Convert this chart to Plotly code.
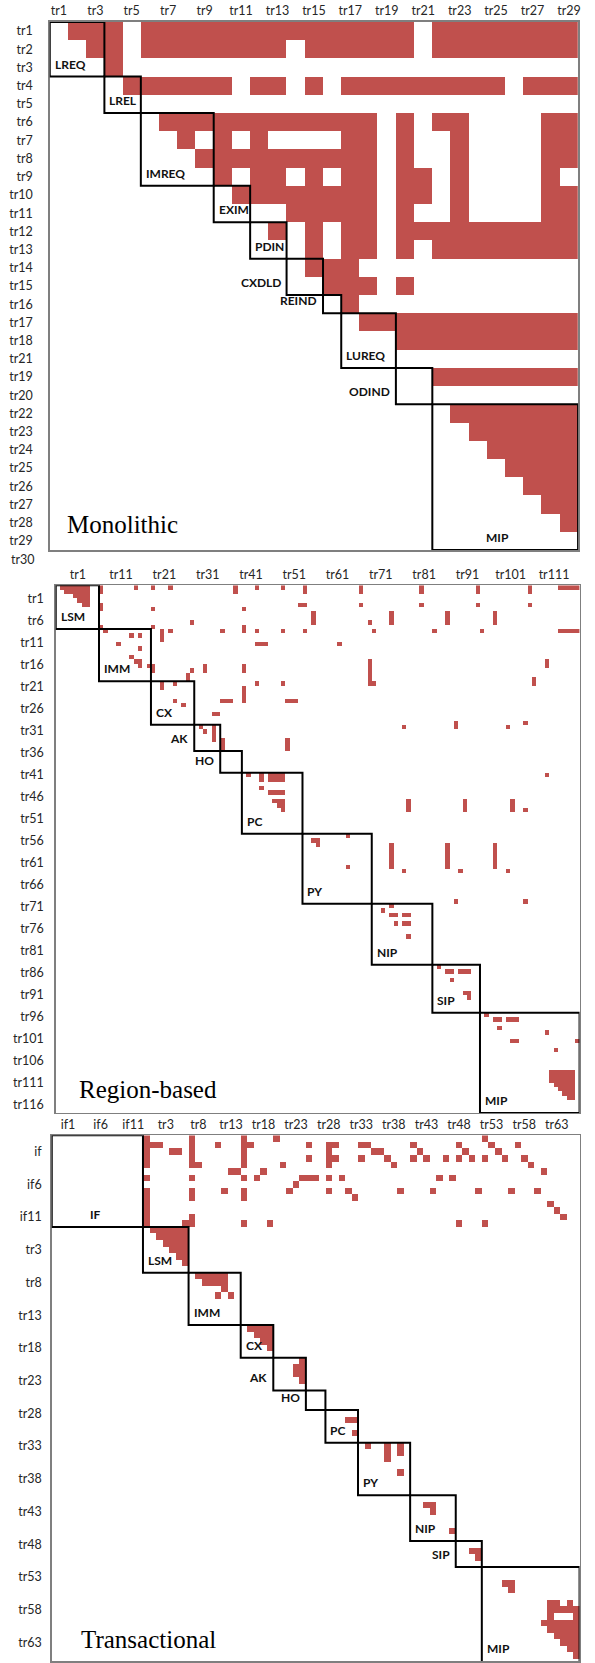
import numpy as np
import plotly.graph_objects as go

RED = "#C0504D"
W, H = 595, 1663

# ---------------- Panel 1: Monolithic ----------------
mono_n = 29
mono_x_labels = ["tr%d" % i for i in range(1, 30, 2)]
mono_y_labels = ["tr%d" % i for i in range(1, 19)] + ["tr21", "tr19", "tr20"] + ["tr%d" % i for i in range(22, 31)]
mono_blocks = ["LREQ", "LREL", "IMREQ", "EXIM", "PDIN", "CXDLD", "REIND", "LUREQ", "ODIND", "MIP"]
mono_block_sizes = [3, 2, 4, 2, 2, 2, 1, 3, 2, 8]
mono_label_modes = ["in", "in", "in", "in", "in", "out", "out", "in", "out", "mid"]
# dependency runs: [row_from, row_to, col_from, col_to]
mono_runs = [
    [0, 0, 1, 3], [0, 0, 5, 19], [0, 0, 21, 28],
    [1, 1, 2, 3], [1, 1, 5, 12], [1, 1, 14, 19], [1, 1, 21, 28],
    [2, 2, 3, 3],
    [3, 3, 4, 9], [3, 3, 11, 12], [3, 3, 14, 14], [3, 3, 16, 24], [3, 3, 26, 28],
    [5, 5, 6, 17], [5, 5, 19, 19], [5, 5, 21, 22], [5, 5, 27, 28],
    [6, 6, 7, 7], [6, 6, 9, 9], [6, 6, 11, 11], [6, 6, 16, 17], [6, 6, 19, 19], [6, 6, 22, 22], [6, 6, 27, 28],
    [7, 7, 8, 17], [7, 7, 19, 19], [7, 7, 22, 22], [7, 7, 27, 28],
    [8, 8, 9, 9], [8, 8, 11, 12], [8, 8, 14, 14], [8, 8, 16, 17], [8, 8, 19, 20], [8, 8, 22, 22], [8, 8, 27, 27],
    [9, 9, 10, 17], [9, 9, 19, 20], [9, 9, 22, 22], [9, 9, 27, 28],
    [10, 10, 13, 17], [10, 10, 19, 19], [10, 10, 22, 22], [10, 10, 27, 28],
    [11, 11, 12, 12], [11, 11, 14, 14], [11, 11, 16, 17], [11, 11, 19, 28],
    [12, 12, 14, 14], [12, 12, 16, 17], [12, 12, 19, 19], [12, 12, 21, 28],
    [13, 13, 14, 16],
    [14, 14, 15, 17], [14, 14, 19, 19],
    [15, 15, 16, 16],
    [16, 16, 17, 28],
    [17, 17, 19, 28],
    [19, 19, 21, 28],
    [21, 21, 22, 28], [22, 22, 23, 28], [23, 23, 24, 28], [24, 24, 25, 28],
    [25, 25, 26, 28], [26, 26, 27, 28], [27, 27, 28, 28],
]

# ---------------- Panel 2: Region-based ----------------
reg_n = 121
reg_x_labels = ["tr%d" % i for i in range(1, 112, 10)]
reg_y_labels = ["tr%d" % i for i in range(1, 117, 5)]
reg_blocks = ["LSM", "IMM", "CX", "AK", "HO", "PC", "PY", "NIP", "SIP", "MIP"]
reg_block_sizes = [10, 12, 10, 6, 5, 14, 16, 14, 11, 23]
reg_label_modes = ["in", "in", "in", "out", "out", "in", "in", "in", "in", "in"]
reg_runs = [
    [0, 0, 1, 7], [1, 1, 2, 7], [2, 2, 4, 7], [3, 3, 5, 7], [4, 4, 6, 7],
    [0, 1, 10, 10], [4, 5, 10, 10], [9, 9, 10, 10],
    [0, 0, 18, 18], [0, 0, 22, 22], [5, 5, 22, 22], [9, 9, 22, 22], [0, 0, 26, 26],
    [0, 1, 41, 41],
    [5, 5, 43, 43], [9, 10, 43, 43], [18, 19, 43, 43], [23, 26, 43, 43],
    [0, 0, 46, 46], [10, 10, 46, 46], [22, 22, 46, 46],
    [0, 0, 52, 52], [10, 10, 52, 52], [22, 22, 52, 52],
    [0, 1, 57, 57], [10, 10, 57, 57], [4, 4, 56, 57], [6, 8, 59, 59],
    [0, 1, 70, 70], [4, 4, 70, 70], [0, 1, 84, 84], [4, 4, 84, 84],
    [0, 1, 97, 97], [4, 4, 97, 97], [0, 1, 109, 109], [4, 4, 109, 109],
    [0, 0, 116, 120], [10, 10, 116, 120],
    [8, 8, 31, 31], [8, 8, 72, 72], [10, 10, 73, 73],
    [6, 8, 77, 77], [6, 8, 90, 90], [6, 8, 101, 101],
    [10, 10, 11, 11], [11, 11, 17, 17], [11, 11, 19, 19], [10, 12, 24, 24],
    [10, 10, 26, 26], [10, 10, 38, 38], [10, 10, 87, 87], [10, 10, 98, 98],
    [13, 13, 14, 14], [14, 14, 19, 19], [13, 13, 46, 48], [13, 13, 65, 65],
    [16, 16, 17, 17], [17, 17, 18, 19], [18, 18, 19, 19],
    [18, 18, 21, 22], [19, 19, 22, 22],
    [19, 19, 31, 31], [18, 19, 34, 34],
    [17, 22, 72, 72], [22, 22, 73, 73], [17, 18, 113, 113],
    [20, 21, 30, 30], [22, 23, 24, 24], [22, 22, 27, 27], [21, 22, 110, 110],
    [26, 26, 27, 27], [27, 27, 29, 29], [26, 26, 38, 40], [26, 26, 53, 55],
    [29, 29, 36, 37],
    [32, 32, 80, 80], [31, 32, 92, 92], [32, 32, 104, 104], [31, 31, 108, 108],
    [32, 32, 33, 33], [33, 33, 34, 34], [32, 35, 36, 36], [35, 37, 38, 38], [35, 37, 53, 53],
    [43, 43, 44, 44], [43, 44, 47, 47], [43, 44, 49, 52], [46, 46, 47, 47],
    [47, 47, 49, 52], [49, 49, 50, 52], [50, 50, 51, 52], [51, 51, 52, 52],
    [43, 43, 113, 113],
    [49, 51, 81, 81], [49, 51, 94, 94], [49, 51, 105, 105], [51, 51, 108, 108],
    [58, 58, 59, 60], [59, 59, 60, 60], [57, 57, 67, 67], [64, 64, 67, 67],
    [59, 64, 77, 77], [65, 65, 80, 80], [59, 64, 90, 90], [65, 65, 93, 93],
    [59, 64, 101, 101], [65, 65, 104, 104], [72, 72, 92, 92], [72, 72, 108, 108],
    [73, 73, 77, 77], [74, 74, 75, 75], [75, 75, 77, 78], [75, 75, 80, 81],
    [77, 77, 78, 78], [77, 77, 80, 81], [80, 80, 81, 81],
    [87, 87, 88, 88], [88, 88, 90, 91], [88, 88, 93, 95], [90, 90, 91, 91],
    [93, 93, 94, 95], [94, 94, 95, 95],
    [98, 98, 99, 99], [99, 99, 101, 102], [99, 99, 104, 106], [101, 101, 102, 102],
    [102, 102, 113, 113], [104, 104, 105, 106], [104, 104, 120, 120], [106, 106, 115, 115],
    [111, 113, 114, 119], [114, 114, 115, 119], [115, 115, 116, 119],
    [116, 116, 117, 119], [117, 117, 118, 119],
]

# ---------------- Panel 3: Transactional ----------------
tra_n = 81
tra_x_labels = ["if1", "if6", "if11"] + ["tr%d" % i for i in range(3, 64, 5)]
tra_y_labels = ["if", "if6", "if11"] + ["tr%d" % i for i in range(3, 64, 5)]
tra_blocks = ["IF", "LSM", "IMM", "CX", "AK", "HO", "PC", "PY", "NIP", "SIP", "MIP"]
tra_block_sizes = [14, 7, 8, 5, 5, 3, 5, 8, 7, 4, 15]
tra_label_modes = ["mid", "in", "in", "in", "out", "out", "in", "in", "in", "out", "in"]
tra_runs = [
    [0, 4, 14, 14], [6, 6, 14, 14], [8, 13, 14, 14],
    [1, 1, 15, 16], [2, 2, 18, 19],
    [0, 4, 21, 21], [4, 4, 22, 22], [6, 6, 21, 21], [8, 9, 21, 21], [12, 13, 21, 21], [13, 13, 20, 20],
    [1, 1, 25, 25],
    [0, 4, 29, 29], [1, 1, 30, 30], [6, 6, 29, 29], [8, 9, 29, 29], [13, 13, 29, 29],
    [5, 5, 27, 28], [6, 6, 31, 31], [5, 5, 32, 32], [0, 0, 34, 34], [4, 4, 35, 35], [13, 13, 33, 33],
    [1, 1, 39, 39], [3, 3, 39, 39],
    [1, 4, 42, 42], [1, 1, 43, 43], [3, 3, 43, 43],
    [1, 1, 47, 48], [2, 2, 49, 50], [3, 3, 51, 51], [4, 4, 52, 52], [3, 3, 47, 47],
    [1, 1, 55, 55], [2, 2, 56, 56], [3, 3, 55, 55], [3, 3, 57, 57], [3, 3, 60, 60],
    [1, 1, 62, 62], [2, 2, 63, 63], [3, 3, 62, 62], [3, 3, 64, 64],
    [0, 0, 66, 66], [1, 1, 67, 67], [2, 2, 68, 68], [3, 3, 69, 69], [3, 3, 66, 66],
    [1, 1, 71, 71], [3, 3, 72, 72], [4, 4, 73, 73], [5, 5, 75, 75],
    [6, 6, 38, 40], [7, 7, 37, 37], [8, 8, 36, 36], [6, 6, 42, 42], [6, 6, 44, 44],
    [8, 8, 42, 42], [8, 8, 45, 45], [9, 9, 46, 46],
    [8, 8, 53, 53], [8, 8, 58, 58], [8, 8, 65, 65], [8, 8, 70, 70], [8, 8, 74, 74],
    [6, 6, 59, 59], [6, 6, 61, 61], [8, 8, 26, 26],
    [10, 10, 76, 76], [11, 11, 77, 77], [12, 12, 78, 78], [13, 13, 62, 62], [13, 13, 66, 66],
    [14, 14, 15, 20], [15, 15, 16, 20], [16, 16, 17, 20], [17, 17, 18, 20], [18, 18, 19, 20], [19, 19, 20, 20],
    [21, 21, 22, 26], [22, 22, 23, 26], [23, 23, 26, 26], [24, 24, 25, 25], [24, 24, 27, 27],
    [29, 29, 30, 33], [30, 30, 31, 33], [31, 31, 32, 33], [32, 32, 33, 33],
    [34, 34, 38, 38], [35, 36, 37, 38], [37, 37, 38, 38],
    [43, 43, 45, 46], [45, 45, 46, 46],
    [47, 47, 48, 48], [47, 49, 51, 51], [47, 48, 53, 53], [51, 51, 53, 53],
    [56, 56, 57, 58], [57, 57, 58, 58], [60, 60, 61, 61],
    [63, 63, 64, 65], [64, 64, 65, 65],
    [68, 68, 69, 70], [69, 69, 70, 70],
    [71, 71, 76, 77], [71, 71, 79, 79], [72, 72, 76, 80], [73, 73, 76, 76], [73, 73, 80, 80],
    [74, 74, 75, 80], [75, 75, 76, 80], [76, 76, 77, 80], [77, 77, 78, 80],
    [78, 78, 79, 80], [79, 79, 80, 80],
]


def build(n, runs):
    z = np.zeros((n, n))
    for r0, r1, c0, c1 in runs:
        z[r0:r1 + 1, c0:c1 + 1] = 1
    return z


# layout geometry (pixels in the page)
panels = [
    dict(name="Monolithic", n=mono_n, runs=mono_runs, blocks=mono_blocks, sizes=mono_block_sizes,
         modes=mono_label_modes, xl=mono_x_labels, xv=[2 * k for k in range(len(mono_x_labels))],
         yl=mono_y_labels[:29], yv=list(range(29)),
         px=(50, 581), py=(22, 550.7), yrange_max=28.5, standoff=13,
         title_xy=(65, 525)),
    dict(name="Region-based", n=reg_n, runs=reg_runs, blocks=reg_blocks, sizes=reg_block_sizes,
         modes=reg_label_modes, xl=reg_x_labels, xv=[4.6 + 10 * k for k in range(len(reg_x_labels))],
         yl=reg_y_labels, yv=[2.5 + 5.05 * k for k in range(len(reg_y_labels))],
         px=(56, 582.5), py=(586, 1114.3), yrange_max=120.5, standoff=8,
         title_xy=(77, 1091)),
    dict(name="Transactional", n=tra_n, runs=tra_runs, blocks=tra_blocks, sizes=tra_block_sizes,
         modes=tra_label_modes, xl=tra_x_labels, xv=[2 + 5 * k for k in range(len(tra_x_labels))],
         yl=tra_y_labels, yv=[2 + 5 * k for k in range(len(tra_y_labels))],
         px=(52, 582.5), py=(1136.7, 1663), yrange_max=79.85, standoff=6,
         title_xy=(79, 1641)),
]

fig = go.Figure()
TICKFONT = dict(family="Lato, 'Open Sans', sans-serif", size=12.5, color="#262626")
LABFONT = dict(family="Lato, 'Open Sans', sans-serif", size=12, color="#111111")
shapes, annotations = [], []

for i, p in enumerate(panels, start=1):
    xa = "x" if i == 1 else "x%d" % i
    ya = "y" if i == 1 else "y%d" % i
    n = p["n"]
    z = build(n, p["runs"])
    fig.add_trace(go.Heatmap(z=z, x=list(range(n)), y=list(range(n)), xaxis=xa, yaxis=ya,
                             colorscale=[[0, "white"], [1, RED]], zmin=0, zmax=1,
                             showscale=False, hoverinfo="skip"))
    dx = [p["px"][0] / W, p["px"][1] / W]
    dy = [max(0, 1 - p["py"][1] / H), 1 - p["py"][0] / H]
    axcommon = dict(showgrid=False, zeroline=False, showline=True, mirror=True,
                    linecolor="#7f7f7f", linewidth=1.5, ticks="", tickfont=TICKFONT)
    fig.update_layout(**{
        ("xaxis" if i == 1 else "xaxis%d" % i): dict(
            domain=dx, range=[-0.5, n - 0.5], side="top", anchor=ya,
            tickmode="array", tickvals=p["xv"], ticktext=p["xl"], **axcommon),
        ("yaxis" if i == 1 else "yaxis%d" % i): dict(
            domain=dy, range=[p["yrange_max"], -0.5], anchor=xa,
            tickmode="array", tickvals=p["yv"], ticktext=p["yl"],
            ticklabelstandoff=p["standoff"], **axcommon),
    })
    # diagonal block boxes and labels
    start = 0
    for name, size, mode in zip(p["blocks"], p["sizes"], p["modes"]):
        end = start + size - 1
        shapes.append(dict(type="rect", xref=xa, yref=ya, x0=start - 0.5, x1=end + 0.5,
                           y0=start - 0.5, y1=end + 0.5, line=dict(color="black", width=2),
                           fillcolor="rgba(0,0,0,0)", layer="above"))
        ybot = min(end + 0.5, p["yrange_max"])
        if mode == "in":
            ann = dict(x=start - 0.5, xanchor="left", xshift=3)
        elif mode == "out":
            ann = dict(x=start - 0.5, xanchor="right", xshift=-4)
        else:
            ann = dict(x=(start + end) / 2, xanchor="center", xshift=-8 if name == "MIP" else -2)
        ann.update(dict(text="<b>%s</b>" % name, xref=xa, yref=ya, y=ybot, yanchor="bottom",
                        yshift=3, showarrow=False, font=LABFONT))
        annotations.append(ann)
        start = end + 1
    # panel title
    tx, ty = p["title_xy"]
    annotations.append(dict(text=p["name"], xref="paper", yref="paper", x=tx / W, y=1 - ty / H,
                            xanchor="left", yanchor="middle", showarrow=False,
                            font=dict(family="Liberation Serif, 'Times New Roman', serif",
                                      size=25, color="black")))

# extra row label below the Monolithic panel
annotations.append(dict(text=mono_y_labels[29], xref="paper", yref="paper", x=37 / W, y=1 - 560 / H,
                        xanchor="right", yanchor="middle", showarrow=False, font=TICKFONT))

fig.update_layout(width=W, height=H, margin=dict(l=0, r=0, t=0, b=0),
                  paper_bgcolor="white", plot_bgcolor="white",
                  shapes=shapes, annotations=annotations, showlegend=False)
fig.write_html("out.html", config={"displayModeBar": False, "staticPlot": True},
               post_script="document.body.style.margin='0';document.body.style.overflow='hidden';")
